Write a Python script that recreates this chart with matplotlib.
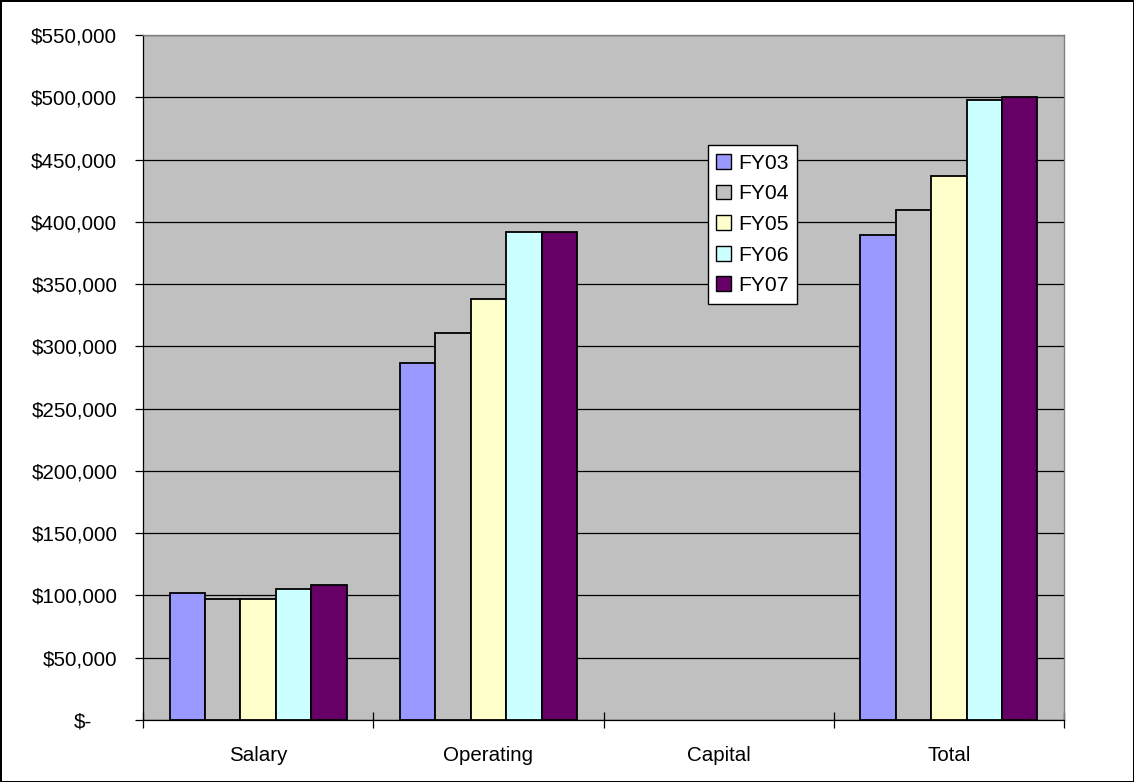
import matplotlib
matplotlib.use("Agg")
import matplotlib.pyplot as plt
import matplotlib.transforms as mtransforms
from matplotlib.ticker import FixedLocator, FuncFormatter, NullFormatter
import numpy as np

plt.rcParams['font.family'] = ['Liberation Sans', 'DejaVu Sans']

categories = ["Salary", "Operating", "Capital", "Total"]
series_names = ["FY03", "FY04", "FY05", "FY06", "FY07"]
fy03 = [102000, 287000, 0, 389800]
fy04 = [97500, 311000, 0, 409300]
fy05 = [97500, 338300, 0, 436400]
fy06 = [105000, 391600, 0, 497700]
fy07 = [108000, 391600, 0, 500500]
series_values = [fy03, fy04, fy05, fy06, fy07]
colors = ["#9999FF", "#C0C0C0", "#FFFFCC", "#CCFFFF", "#660066"]
yticks = list(range(0, 550001, 50000))

W, H = 1134, 782
fig = plt.figure(figsize=(W / 100, H / 100), dpi=100)
fig.patch.set_facecolor("white")
fig.patch.set_edgecolor("black")
fig.patch.set_linewidth(2.0)

ax = fig.add_axes([143 / W, (H - 720) / H, 921 / W, 685 / H])
ax.set_facecolor("#C0C0C0")

n = len(series_names)
bw = 1.0 / 6.5
x = np.arange(len(categories))
for j, (name, vals, c) in enumerate(zip(series_names, series_values, colors)):
    bars = ax.bar(x + (j - (n - 1) / 2) * bw, vals, width=bw, color=c,
                  edgecolor="black", linewidth=1.3, label=name, zorder=3)
    for b, v in zip(bars, vals):
        if v == 0:
            b.set_linewidth(0)

ax.set_xlim(-0.5, len(categories) - 0.5)
ax.set_ylim(0, 550000)

# y axis
ax.yaxis.set_major_locator(FixedLocator(yticks))
ax.yaxis.set_major_formatter(FuncFormatter(lambda v, p: "$-" if v == 0 else f"${v:,.0f}"))
ax.tick_params(axis="y", which="major", direction="out", length=5.5, width=0.9,
               color="black", labelsize=14.8, pad=13)
ax.grid(axis="y", color="black", linewidth=0.9, zorder=1)
ax.set_axisbelow(True)

# x axis: boundaries as major ticks, labels at centres
ax.xaxis.set_major_locator(FixedLocator(np.arange(-0.5, len(categories), 1.0)))
ax.xaxis.set_major_formatter(NullFormatter())
ax.xaxis.set_minor_locator(FixedLocator(x))
ax.set_xticklabels(categories, minor=True)
ax.tick_params(axis="x", which="major", direction="inout", length=11, width=0.9, color="black")
ax.tick_params(axis="x", which="minor", length=0, labelsize=14.8, pad=19)

for side in ["top", "right"]:
    ax.spines[side].set_color("#808080")
    ax.spines[side].set_linewidth(1.0)
for side in ["left", "bottom"]:
    ax.spines[side].set_color("black")
    ax.spines[side].set_linewidth(0.9)

# shift "$-" label left (accounting format alignment)
fig.canvas.draw()
for t in ax.yaxis.get_majorticklabels():
    if t.get_text() == "$-":
        t.set_transform(t.get_transform() + mtransforms.ScaledTranslation(-25 / 100, 0, fig.dpi_scale_trans))

leg = ax.legend(loc="upper left", bbox_to_anchor=(0.613, 0.839), borderaxespad=0,
                frameon=True, fancybox=False, shadow=False, framealpha=1,
                edgecolor="black", fontsize=15.2, handlelength=0.7, handleheight=0.7,
                handletextpad=0.35, labelspacing=0.55, borderpad=0.4)
leg.get_frame().set_linewidth(1.0)
for h in leg.legend_handles:
    h.set_linewidth(1.0)

fig.savefig("out.png", dpi=100, facecolor=fig.get_facecolor(), edgecolor=fig.get_edgecolor())
